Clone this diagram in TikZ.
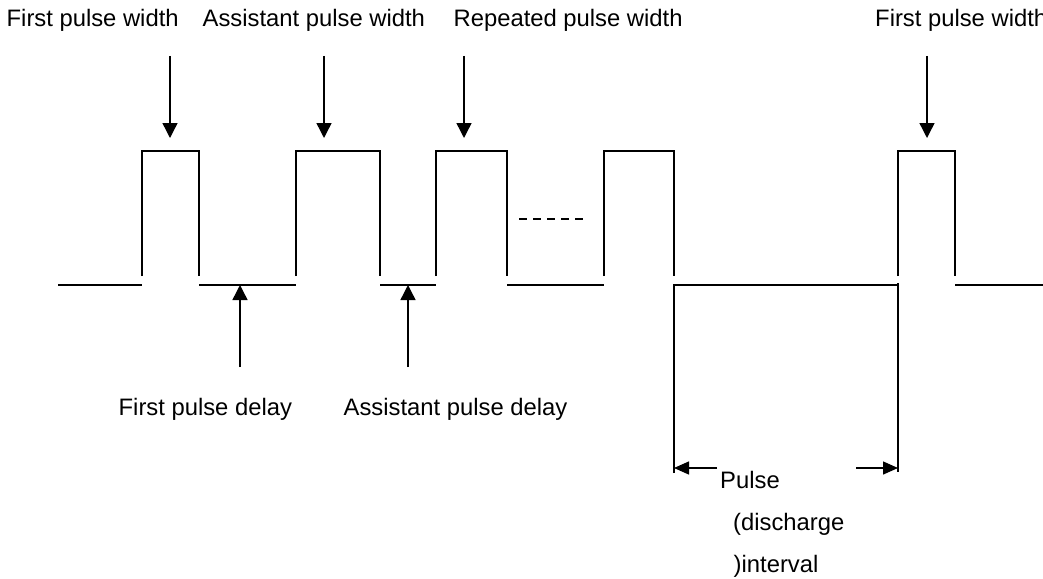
\documentclass[tikz,border=0pt]{standalone}
\usepackage{fontspec}
\setmainfont{Liberation Sans}
\usetikzlibrary{arrows.meta}
\begin{document}
\begin{tikzpicture}[x=1pt,y=-1pt,
  wave/.style={line width=2pt},
  lbl/.style={inner sep=0pt, anchor=base west, font=\fontsize{23.8}{28}\selectfont},
  ptr/.style={line width=1.4pt, -{Triangle[length=15pt,width=15pt]}},
  dimptr/.style={line width=1.4pt, -{Triangle[length=15pt,width=13pt]}},
]
\useasboundingbox (0,0) rectangle (1043,578);
% baseline segments
\draw[wave] (58,285) -- (142,285);
\draw[wave] (199,285) -- (296,285);
\draw[wave] (380,285) -- (436,285);
\draw[wave] (507,285) -- (604,285);
\draw[wave] (674,473) -- (674,285) -- (898,285);
\draw[wave] (898,283) -- (898,472);
\draw[wave] (955,285) -- (1043,285);
% pulses
\draw[wave] (142,276) -- (142,151) -- (199,151) -- (199,276);
\draw[wave] (296,276) -- (296,151) -- (380,151) -- (380,276);
\draw[wave] (436,276) -- (436,151) -- (507,151) -- (507,276);
\draw[wave] (604,276) -- (604,151) -- (674,151) -- (674,276);
\draw[wave] (898,276) -- (898,151) -- (955,151) -- (955,276);
% ellipsis dashes
\draw[line width=1.5pt, dash pattern=on 7.6pt off 6.5pt] (519,219) -- (583,219);
% labels
\node[lbl] (fpw) at (6.5,27) {First pulse width};
\node[lbl] (apw) at (202.5,27) {Assistant pulse width};
\node[lbl] (rpw) at (453.5,27) {Repeated pulse width};
\node[lbl] (fpw2) at (875,27) {First pulse width};
\node[lbl] (fpd) at (118.5,415) {First pulse delay};
\node[lbl] (apd) at (343.5,415) {Assistant pulse delay};
\node[lbl] (pi1) at (720,488) {Pulse};
\node[lbl] (pi2) at (733,530) {(discharge};
\node[lbl] (pi3) at (733.5,572) {)interval};
% arrow end points
\coordinate (a1s) at (170,56);  \coordinate (a1t) at (170,138);
\coordinate (a2s) at (324,56);  \coordinate (a2t) at (324,138);
\coordinate (a3s) at (464,56);  \coordinate (a3t) at (464,138);
\coordinate (a4s) at (927,56);  \coordinate (a4t) at (927,138);
\coordinate (b1s) at (240,367); \coordinate (b1t) at (240,285);
\coordinate (b2s) at (408,367); \coordinate (b2t) at (408,285);
\coordinate (d1s) at (717,468); \coordinate (d1t) at (674,468);
\coordinate (d2s) at (856,468); \coordinate (d2t) at (898,468);
\draw[ptr] (a1s) -- (a1t);
\draw[ptr] (a2s) -- (a2t);
\draw[ptr] (a3s) -- (a3t);
\draw[ptr] (a4s) -- (a4t);
\draw[ptr] (b1s) -- (b1t);
\draw[ptr] (b2s) -- (b2t);
\draw[dimptr] (d1s) -- (d1t);
\draw[dimptr] (d2s) -- (d2t);
\end{tikzpicture}
\end{document}
